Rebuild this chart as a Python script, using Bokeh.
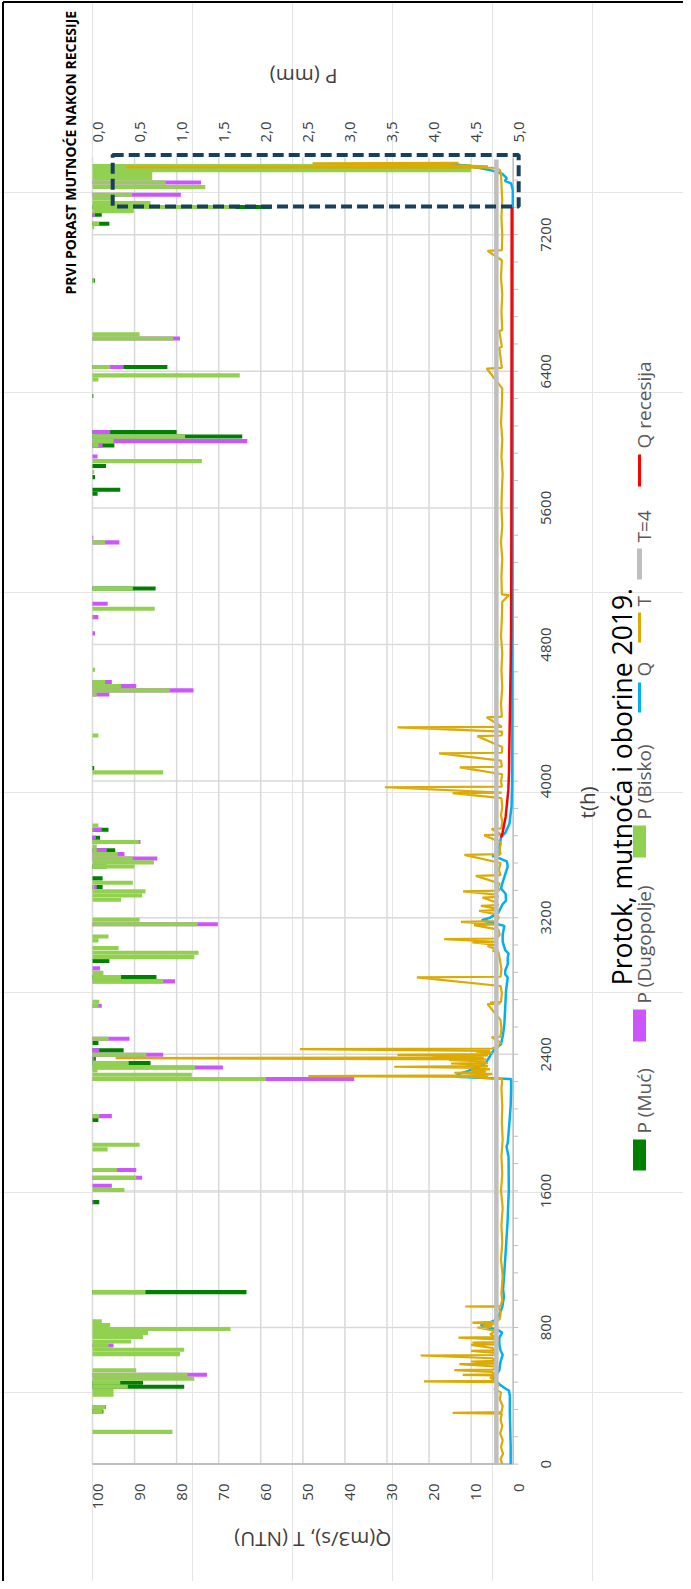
from math import pi
from bokeh.plotting import figure
from bokeh.models import Range1d
from bokeh.core.properties import value
from bokeh.embed import file_html
from bokeh.resources import INLINE

FONT = "Open Sans"

# ---------------- data ----------------
# daily precipitation blocks: start hour of the day (t) and P in mm
bar_t = [7590, 7566, 7543, 7519, 7494, 7467, 7422, 7398, 7373, 7350, 7326, 7305, 7252, 7232, 6920,
         6604, 6580, 6413, 6364, 6340, 6243, 6032, 6006, 5979, 5954, 5889, 5862, 5833,
         5798, 5768, 5694, 5671, 5413, 5386, 5116, 5027, 4997, 4948,
         4853, 4640, 4568, 4544, 4519, 4495, 4255, 4064, 4039,
         3728, 3703, 3656, 3631, 3605, 3582, 3560, 3535, 3512, 3488, 3418, 3393, 3367, 3342, 3318,
         3293, 3176, 3150, 3078, 3055, 3010, 2983, 2957,
         2934, 2891, 2865, 2840, 2815, 2696, 2672, 2479, 2454, 2411, 2385, 2362, 2336, 2311, 2293,
         2268, 2243, 2026, 2003,
         1858, 1831, 1710, 1665, 1618, 1593, 1522,
         995, 825, 802, 779, 755, 732, 706, 683, 658, 632, 538, 511, 488, 464, 441, 417, 394, 322,
         296, 177]
p_bisko = [4.5, 4.5, 0.71, 0.71, 0.87, 1.34, 0.47, 0.26, 0.69, 1.7, 0.49, 0, 0.08, 0.02, 0.02,
           0.56, 0.96, 0.21, 1.75, 0.07, 0, 0, 1.1, 0.25, 0.07, 0, 1.3, 0,
           0.02, 0, 0, 0, 0, 0.15, 0.48, 0, 0.74, 0.01,
           0, 0.03, 0.15, 0.34, 0.92, 0.05, 0.07, 0, 0.84,
           0.07, 0.01, 0, 0.55, 0.05, 0.05, 0.3, 0.48, 0.73, 0.5, 0, 0.48, 0.02, 0.63, 0.59,
           0.34, 0.56, 1.25, 0.19, 0.07, 0.31, 1.26, 1.21,
           0, 0, 0.13, 0.34, 0.84, 0.08, 0.07, 0.19, 0, 0, 0.64, 0, 0.43, 1.22, 0.06,
           1.18, 2.06, 0.08, 0,
           0.56, 0.18, 0.29, 0.52, 0, 0.38, 0,
           0.63, 0.11, 0.21, 1.64, 0.66, 0.6, 0.46, 0.19, 1.09, 1.04, 0.52, 1.13, 1.21, 0.33, 0.42,
           0.25, 0.25, 0.15, 0.12, 0.95]
p_dugo = [0, 0, 0, 0, 1.29, 0, 1.05, 0, 0, 0, 0, 0.03, 0, 0, 0,
          0, 1.04, 0.37, 0, 0, 0, 0.21, 0, 1.84, 0.12, 0.06, 0, 0,
          0, 0, 0, 0, 0.01, 0.32, 0, 0.18, 0, 0.07,
          0.03, 0, 0.23, 0.52, 1.2, 0.2, 0, 0, 0,
          0, 0.11, 0.04, 0.57, 0, 0.17, 0.38, 0.77, 0, 0, 0, 0, 0.05, 0, 0,
          0, 0, 1.49, 0, 0, 0, 0, 0,
          0, 0.09, 0, 0, 0.98, 0, 0.11, 0.44, 0, 0.08, 0.84, 0.02, 0, 1.55, 0,
          0, 3.11, 0.23, 0,
          0, 0, 0.52, 0.59, 0.23, 0, 0.01,
          0, 0, 0, 0, 0, 0, 0, 0.25, 0, 0, 0, 1.36, 0, 0, 0,
          0, 0, 0.16, 0, 0]
p_muc = [0, 0, 0, 0, 0, 0, 0, 0, 0, 2.13, 0, 0.11, 0.2, 0, 0.03,
         0, 0, 0.89, 0, 0, 0.01, 1.0, 1.78, 0, 0.26, 0, 0, 0.16,
         0, 0.03, 0.33, 0.06, 0, 0, 0.75, 0, 0, 0,
         0, 0, 0, 0, 0, 0, 0, 0.02, 0,
         0, 0.19, 0.09, 0, 0, 0.27, 0, 0, 0, 0.17, 0.12, 0, 0.12, 0, 0,
         0, 0, 0, 0, 0, 0, 0, 0,
         0.2, 0, 0, 0.76, 0, 0, 0, 0, 0.07, 0.37, 0, 0.04, 0.69, 0, 0,
         0, 0, 0, 0.07,
         0, 0, 0, 0, 0, 0, 0.08,
         1.83, 0, 0, 0, 0, 0, 0, 0, 0, 0, 0, 0, 0, 0.6, 1.09,
         0, 0, 0, 0.13, 0]

# discharge Q (m3/s)
q_t = [0, 100, 200, 300, 400, 430, 440, 460, 480, 510, 530, 550, 600, 640, 665, 700, 740, 770,
       790, 805, 815, 825, 840, 870, 920, 980, 1025, 1200, 1415, 1600, 1800, 1860, 1880, 2000,
       2100, 2200, 2255, 2262, 2268, 2285, 2300, 2323, 2352, 2381, 2401, 2430, 2459, 2518, 2577,
       2674, 2772, 2850, 2869, 2889, 2928, 2967, 2990, 3010, 3060, 3100, 3152, 3170, 3185, 3200,
       3230, 3280, 3300, 3340, 3370, 3400, 3500, 3530, 3555, 3562, 3570, 3620, 3670, 3700, 3750,
       3850, 4000, 5000, 6000, 7000, 7360, 7460, 7500, 7515, 7530, 7555, 7575, 7590, 7605, 7618]
q_val = [0.6, 0.6, 0.7, 0.8, 0.8, 1.0, 1.7, 2.9, 3.8, 4.7, 3.8, 3.3, 3.0, 2.5, 3.0, 3.3, 3.3, 2.6,
         4.0, 7.0, 7.7, 6.0, 4.5, 3.4, 2.6, 2.2, 2.4, 1.9, 1.35, 1.05, 1.1, 1.6, 1.3, 0.9,
         0.6, 0.5, 0.5, 8.0, 13.6, 13.0, 11.0, 8.5, 6.5, 5.7, 5.3, 4.4, 2.9, 2.4, 2.1,
         1.9, 1.7, 1.3, 1.9, 1.9, 1.3, 1.3, 1.1, 1.9, 2.5, 2.5, 2.1, 5.0, 7.5, 5.5,
         3.5, 2.5, 1.7, 1.8, 2.9, 2.6, 1.3, 1.5, 4.0, 5.0, 3.3, 3.3, 2.9, 1.8, 0.9,
         0.4, 0.25, 0.2, 0.15, 0.12, 0.1, 0.1, 0.5, 2.0, 1.5, 2.5, 5.0, 8.0, 12.0, 15.0]

# turbidity T (NTU)
t_t = [0, 30, 60, 100, 140, 180, 220, 260, 296, 300, 304, 340, 380, 420, 440, 460, 480, 484, 488,
       505, 520, 523, 526, 540, 550, 553, 570, 585, 588, 601, 604, 620, 636, 639, 650, 663, 666,
       680, 698, 701, 712, 715, 730, 741, 744, 760, 780, 800, 805, 816, 820, 829, 833, 850, 880,
       920, 923, 926, 960, 1000, 1100, 1200, 1300, 1400, 1500, 1600, 1700, 1800, 1900, 2000,
       2100, 2200, 2255, 2264, 2268, 2272, 2276, 2285, 2292, 2296, 2307, 2312, 2320, 2327, 2331,
       2340, 2346, 2350, 2360, 2366, 2370, 2378, 2382, 2389, 2393, 2397, 2401, 2410, 2415, 2420,
       2430, 2434, 2450, 2470, 2499, 2503, 2550, 2600, 2694, 2698, 2703, 2707, 2760, 2800, 2850,
       2854, 2900, 2960, 3000, 3006, 3010, 3020, 3035, 3040, 3055, 3059, 3074, 3078, 3100, 3130,
       3156, 3160, 3176, 3180, 3200, 3220, 3240, 3244, 3255, 3270, 3274, 3290, 3318, 3322, 3335,
       3354, 3358, 3380, 3400, 3445, 3449, 3480, 3520, 3568, 3572, 3600, 3640, 3683, 3687, 3719,
       3723, 3760, 3800, 3850, 3900, 3929, 3933, 3964, 3968, 4000, 4040, 4080, 4084, 4120, 4162,
       4166, 4200, 4263, 4267, 4290, 4314, 4318, 4373, 4377, 4450, 4550, 4650, 4750, 4850, 4950,
       5050, 5089, 5093, 5200, 5300, 5400, 5500, 5600, 5700, 5800, 5900, 6000, 6100, 6200, 6300,
       6416, 6420, 6539, 6543, 6637, 6641, 6750, 6850, 6950, 7050, 7105, 7109, 7200, 7300, 7400,
       7500, 7560, 7580, 7592, 7596, 7600, 7608, 7618, 7621]
t_val = [2.6, 3.0, 2.4, 2.9, 2.5, 3.1, 2.6, 3.0, 2.7, 14.4, 2.8, 2.5, 3.2, 2.9, 4.5, 3.5, 4.0, 21.2, 4.2,
         5.5, 4.0, 12.0, 4.5, 5.0, 14.0, 4.8, 3.5, 12.8, 4.0, 10.0, 3.8, 5.0, 22.0, 4.5, 3.6, 10.0, 4.2,
         5.0, 10.0, 4.0, 9.7, 4.5, 3.5, 13.0, 4.0, 5.5, 4.2, 8.5, 5.0, 7.3, 4.5, 9.7, 4.0, 3.2, 3.0,
         3.4, 11.4, 3.0, 2.6, 2.8, 2.5, 2.9, 2.6, 2.8, 2.5, 2.9, 2.6, 2.8, 2.5, 2.7,
         2.6, 2.8, 2.6, 8.9, 6.0, 48.7, 7.0, 5.0, 14.0, 6.5, 10.0, 5.5, 8.0, 28.3, 6.0,
         7.5, 14.8, 6.0, 8.0, 15.2, 6.5, 94.5, 7.0, 19.2, 6.0, 27.5, 6.5, 5.0, 8.9, 5.5,
         50.7, 5.0, 3.5, 3.0, 5.1, 3.0, 2.8, 3.0, 6.1, 3.0, 5.5, 2.9, 2.7, 3.0, 22.9,
         3.0, 2.8, 3.2, 3.5, 4.9, 3.6, 4.5, 6.1, 3.8, 9.7, 4.0, 16.4, 4.0, 3.2, 3.5,
         9.3, 3.8, 12.4, 4.0, 3.4, 4.0, 8.1, 3.6, 4.5, 7.7, 3.5, 4.2, 7.3, 3.5, 4.0,
         11.9, 3.3, 3.6, 3.2, 8.9, 3.0, 3.4, 3.0, 11.6, 3.0, 3.2, 2.9, 6.9, 2.8, 5.1,
         2.8, 2.6, 2.9, 2.6, 2.8, 14.4, 2.7, 30.5, 2.7, 2.9, 2.6, 12.7, 2.7, 2.9, 17.6,
         2.7, 2.6, 8.5, 2.8, 2.6, 27.5, 2.7, 6.3, 2.7, 2.9, 2.6, 2.8, 2.6, 2.9, 2.7,
         2.6, 1.0, 2.7, 2.8, 2.6, 2.9, 2.6, 2.8, 2.7, 2.5, 2.8, 2.6, 2.9, 2.7, 2.6,
         6.3, 2.7, 3.3, 2.7, 3.3, 2.6, 2.8, 2.6, 2.9, 2.7, 6.1, 2.7, 2.6, 2.8, 2.6,
         2.8, 2.9, 3.2, 5.0, 92.0, 6.0, 16.0, 47.7, 13.0]

# turbidity threshold T=4
t4_t = [0, 7640]
t4_val = [4, 4]

# recession of Q
qr_t = [3670, 3700, 3740, 3790, 3840, 3900, 3950, 4050, 4150, 4300, 4500, 4700, 4900, 5300,
        5800, 6300, 6800, 7360]
qr_val = [2.9, 2.5, 2.2, 1.8, 1.6, 1.35, 1.15, 1.0, 0.95, 0.85, 0.72, 0.58, 0.5, 0.45,
          0.42, 0.4, 0.38, 0.36]

# axis ticks and labels
q_ticks = [0, 10, 20, 30, 40, 50, 60, 70, 80, 90, 100]
q_labels = ["0", "10", "20", "30", "40", "50", "60", "70", "80", "90", "100"]
t_ticks = [0, 800, 1600, 2400, 3200, 4000, 4800, 5600, 6400, 7200]
t_labels = ["0", "800", "1600", "2400", "3200", "4000", "4800", "5600", "6400", "7200"]
t_minor = list(range(0, 7652, 160))
p_ticks = [0, 0.5, 1.0, 1.5, 2.0, 2.5, 3.0, 3.5, 4.0, 4.5, 5.0]
p_labels = ["0,0", "0,5", "1,0", "1,5", "2,0", "2,5", "3,0", "3,5", "4,0", "4,5", "5,0"]

Q_MIN, Q_MAX = 0, 100
P_MIN, P_MAX = 0, 5
T_MIN, T_MAX = 0, 7652

# ---------------- layout (page pixels) ----------------
PAGE_L, PAGE_R, PAGE_T, PAGE_B = 8, 691, 8, 1589
PL, PR, PT, PB = 100.0, 520.7, 165.0, 1471.6   # plot area


def at(v_a, v_b, a, b, c):
    return v_a + (v_b - v_a) * (c - a) / (b - a)


p = figure(width=PAGE_R - PAGE_L, height=PAGE_B - PAGE_T,
           x_range=Range1d(PAGE_L, PAGE_R), y_range=Range1d(PAGE_B, PAGE_T),
           x_axis_location=None, y_axis_location=None, min_border=0,
           output_backend="svg", toolbar_location=None, outline_line_color=None,
           background_fill_color="white", border_fill_color="white")
p.extra_x_ranges = {
    "q": Range1d(at(Q_MAX, Q_MIN, PL, PR, PAGE_L), at(Q_MAX, Q_MIN, PL, PR, PAGE_R)),
    "p": Range1d(at(P_MIN, P_MAX, PL, PR, PAGE_L), at(P_MIN, P_MAX, PL, PR, PAGE_R)),
}
p.extra_y_ranges = {
    "t": Range1d(at(T_MIN, T_MAX, PB, PT, PAGE_B), at(T_MIN, T_MAX, PB, PT, PAGE_T)),
}

GRID = "#d9d9d9"
AX = "#bfbfbf"
LAB = "#404040"

# Open Sans advance widths (units per 2048 em) for text placement
W = {' ': 532, '(': 600, ')': 600, ',': 492, '.': 545, '/': 752, '=': 1171,
     'P': 1255, 'Q': 1556, 'T': 1114, 'D': 1479, 'M': 1812, 'N': 1516, 'U': 1479, 'B': 1327,
     'a': 1139, 'b': 1255, 'c': 975, 'ć': 975, 'e': 1149, 'g': 1122, 'h': 1257, 'i': 518,
     'j': 518, 'k': 1075, 'l': 518, 'm': 1905, 'n': 1257, 'o': 1237, 'p': 1255, 'r': 836,
     's': 977, 't': 723, 'u': 1257}
for d in "0123456789":
    W[d] = 1171


def tw(s, size):
    return sum(W.get(ch, 1150) for ch in s) / 2048 * size


# grid
p.segment(x0=q_ticks, x1=q_ticks, y0=T_MIN, y1=T_MAX, x_range_name="q", y_range_name="t",
          line_color=GRID, line_width=1.5)
p.segment(x0=Q_MAX, x1=Q_MIN, y0=t_ticks[1:], y1=t_ticks[1:], x_range_name="q",
          y_range_name="t", line_color=GRID, line_width=1.5)
# axis lines and ticks
p.segment(x0=[Q_MAX], x1=[Q_MIN], y0=[T_MIN], y1=[T_MIN], x_range_name="q", y_range_name="t",
          line_color=AX, line_width=2)
p.segment(x0=[Q_MIN], x1=[Q_MIN], y0=[T_MIN], y1=[T_MAX], x_range_name="q", y_range_name="t",
          line_color=AX, line_width=1.5)
p.segment(x0=PR, x1=PR + 5, y0=t_minor, y1=t_minor, y_range_name="t",
          line_color=AX, line_width=1)

# tick labels (rotated, start-anchored on the alphabetic baseline)
TS = 15
DIG = 0.357 * TS   # half the digit height
TXT = dict(text_font=value(FONT), text_font_size=value(f"{TS}px"), text_color=LAB,
           angle=pi / 2, text_align="left", text_baseline="alphabetic")
p.text(x=q_ticks, y=[1491 + tw(s, TS) for s in q_labels], text=q_labels, x_range_name="q",
       x_offset=DIG, **TXT)
p.text(x=[548 + DIG] * len(t_ticks), y=t_ticks, text=t_labels, y_range_name="t",
       y_offset=[tw(s, TS) / 2 for s in t_labels], **TXT)
p.text(x=p_ticks, y=[150] * len(p_ticks), text=p_labels, x_range_name="p",
       x_offset=DIG, **TXT)

# bars (overlapping; Bisko drawn on top)
bar_c = [t + 12 for t in bar_t]
p.hbar(y=bar_c, height=24, left=0, right=p_muc, x_range_name="p", y_range_name="t",
       fill_color="#008000", line_color=None)
p.hbar(y=bar_c, height=24, left=0, right=p_dugo, x_range_name="p", y_range_name="t",
       fill_color="#cc55ff", line_color=None)
p.hbar(y=bar_c, height=24, left=0, right=p_bisko, x_range_name="p", y_range_name="t",
       fill_color="#92d050", line_color=None)

# lines
LN = dict(x_range_name="q", y_range_name="t")
p.line(x=q_val, y=q_t, line_color="#00b0f0", line_width=2.5, **LN)
p.line(x=t_val, y=t_t, line_color="#dcaa00", line_width=2.2, **LN)
p.line(x=t4_val, y=t4_t, line_color="#bfbfbf", line_width=4.5, **LN)
p.line(x=qr_val, y=qr_t, line_color="#ff0000", line_width=2.5, **LN)

# highlight box (first turbidity rise after recession)
p.quad(left=[95.2], right=[-1.3], bottom=[7365], top=[7666], fill_color=None,
       line_color="#17405e", line_width=4, line_dash="11 5", **LN)


def rtext(cx, cy, s, size, angle, color=LAB, body=0.26, bold=False):
    """Place rotated text so that its body is centred on (cx, cy) in page px."""
    w = tw(s, size)
    if angle == pi:
        x, y = cx + w / 2, cy - body * size
    else:
        x, y = cx + body * size, cy + w / 2
    p.text(x=[x], y=[y], text=[s], angle=angle, text_align="left",
           text_baseline="alphabetic", text_font=value(FONT),
           text_font_size=value(f"{size}px"), text_color=color,
           text_font_style="bold" if bold else "normal")


# annotation of the highlighted event (starts at bottom, reads upward)
p.text(x=[73.5 + 0.357 * 14], y=[302], text=["PRVI PORAST MUTNOĆE NAKON RECESIJE"],
       angle=pi / 2, text_align="left", text_baseline="alphabetic",
       text_font=value(FONT), text_font_size=value("14px"), text_color="#000000",
       text_font_style="bold")
rtext(311, 90, "P (mm)", 20.5, pi)
rtext(321, 1553, "Q(m3/s), T (NTU)", 20.5, pi)
rtext(589, 810, "t(h)", 20.5, pi / 2)
rtext(620, 794, "Protok, mutnoća i oborine 2019.", 26.5, pi / 2, "#000000", body=0.36)

# legend
LEG_X = 647
LEG_S = 19
legend_items = [("P (Muć)", "#008000", "box", 1147, 1178),
                ("P (Dugopolje)", "#cc55ff", "box", 1017, 1049),
                ("P (Bisko)", "#92d050", "box", 833, 865),
                ("Q", "#00b0f0", "line", 690, 720),
                ("T", "#dcaa00", "line", 620, 650),
                ("T=4", "#bfbfbf", "line", 556, 587),
                ("Q recesija", "#ff0000", "line", 462, 494)]
for name, col, kind, y0, y1 in legend_items:
    if kind == "box":
        l, r = LEG_X - 6.5, LEG_X + 6.5
    else:
        w = 5 if name == "T=4" else 3
        l, r = LEG_X - w / 2, LEG_X + w / 2
    p.quad(left=[l], right=[r], top=[y0], bottom=[y1], fill_color=col, line_color=None)
    p.text(x=[LEG_X + 0.26 * LEG_S], y=[y0 - 6], text=[name], angle=pi / 2,
           text_align="left", text_baseline="alphabetic", text_font=value(FONT),
           text_font_size=value(f"{LEG_S}px"), text_color="#595959")

# outer frame line
p.segment(x0=[10.5, 10.5], x1=[10.5, PAGE_R], y0=[9.5, 9.5], y1=[PAGE_B, 9.5],
          line_color="#000000", line_width=2)

open("out.html", "w").write(file_html(p, INLINE))
